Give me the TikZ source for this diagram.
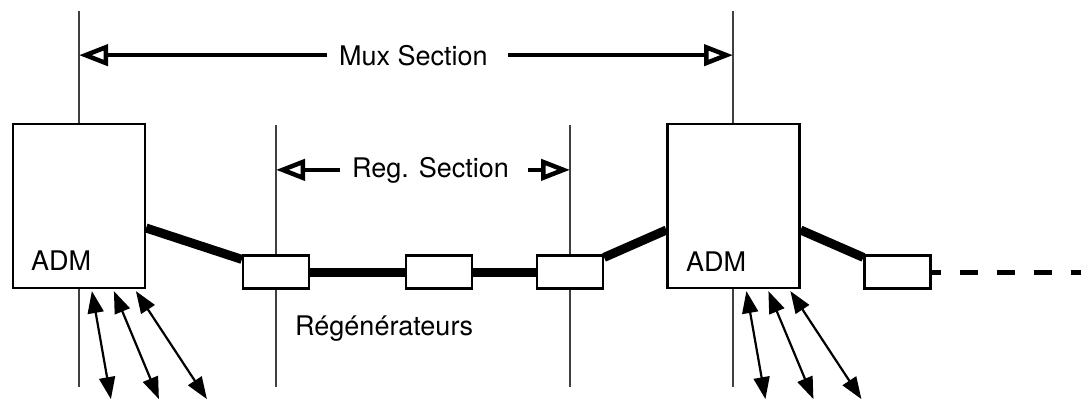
\documentclass[tikz,border=0pt]{standalone}
\usepackage{fontspec}
\setmainfont{TeX Gyre Heros}
\usetikzlibrary{positioning,arrows.meta}

\begin{document}
\begin{tikzpicture}[x=1pt,y=-1pt,
  adm/.style={draw,line width=2.2pt,fill=white,minimum width=132pt,
    minimum height=164pt,inner sep=0pt},
  regen/.style={draw,line width=2.2pt,fill=white,minimum width=66pt,
    minimum height=33pt,inner sep=0pt},
  lbl/.style={anchor=base west,inner sep=0pt,font=\fontsize{27}{32}\selectfont},
  vline/.style={line width=1.3pt,black!75},
  fibre/.style={line width=9pt},
  secarr/.style={-{Triangle[open,length=29pt,width=21pt]},line width=4.5pt},
  trib/.style={{Triangle[length=22pt,width=16pt]}-{Triangle[length=22pt,width=16pt]},
    line width=2.2pt}]
\useasboundingbox (0,0) rectangle (1081,400);

% section limits
\coordinate (m1t) at (79,11);   \coordinate (m1b) at (79,387);
\coordinate (m2t) at (733,11);  \coordinate (m2b) at (733,387);
\coordinate (r1t) at (276,125); \coordinate (r1b) at (276,387);
\coordinate (r2t) at (570,125); \coordinate (r2b) at (570,387);
\foreach \c in {m1,m2,r1,r2}
  \draw[vline] (\c t) -- (\c b);

% equipment
\node[adm] (adm1) at (79,206) {};
\node[adm] (adm2) at (733.5,206) {};
\node[regen] (reg1) at (276,272) {};
\node[regen] (reg2) at (439,272) {};
\node[regen] (reg3) at (570,272) {};
\node[regen] (reg4) at (897.5,272) {};

\node[lbl] (admtxt1) at (31,270) {ADM};
\node[lbl] (admtxt2) at (686,271) {ADM};
\node[lbl] (mux) at (339,65) {Mux Section};
\node[lbl] (reg) at (352,177) {Reg. Section};
\node[lbl] (rgtxt) at (295,335) {Régénérateurs};

% fibre
\draw[fibre] ([yshift=-22pt]adm1.east) -- ([yshift=-5pt]reg1.north west);
\draw[fibre] (reg1.east) -- (reg2.west);
\draw[fibre] (reg2.east) -- (reg3.west);
\draw[fibre] ([yshift=-3pt]reg3.north east) -- ([yshift=-24pt]adm2.west);
\draw[fibre] ([yshift=-24pt]adm2.east) -- ([yshift=-3pt]reg4.north west);
\coordinate (far) at (1081,272);
\draw[line width=5pt,dash pattern=on 18pt off 19pt,dash phase=9pt]
  (reg4.east) -- (far);

% sections
\draw[secarr] ([xshift=-12pt]mux.west) -- (mux.west -| m1t);
\draw[secarr] ([xshift=20pt]mux.east) -- (mux.east -| m2t);
\draw[secarr] ([xshift=-12pt]reg.west) -- (reg.west -| r1t);
\draw[secarr] ([xshift=19pt]reg.east) -- (reg.east -| r2t);

% tributaries
\foreach \a in {adm1,adm2}
  \foreach \s/\e in {80/99,102/147,124/195}
    \draw[trib] ([xshift=\s pt,yshift=-2pt]\a.south west)
      -- ([xshift=\e pt,yshift=-110pt]\a.south west);
\end{tikzpicture}
\end{document}
